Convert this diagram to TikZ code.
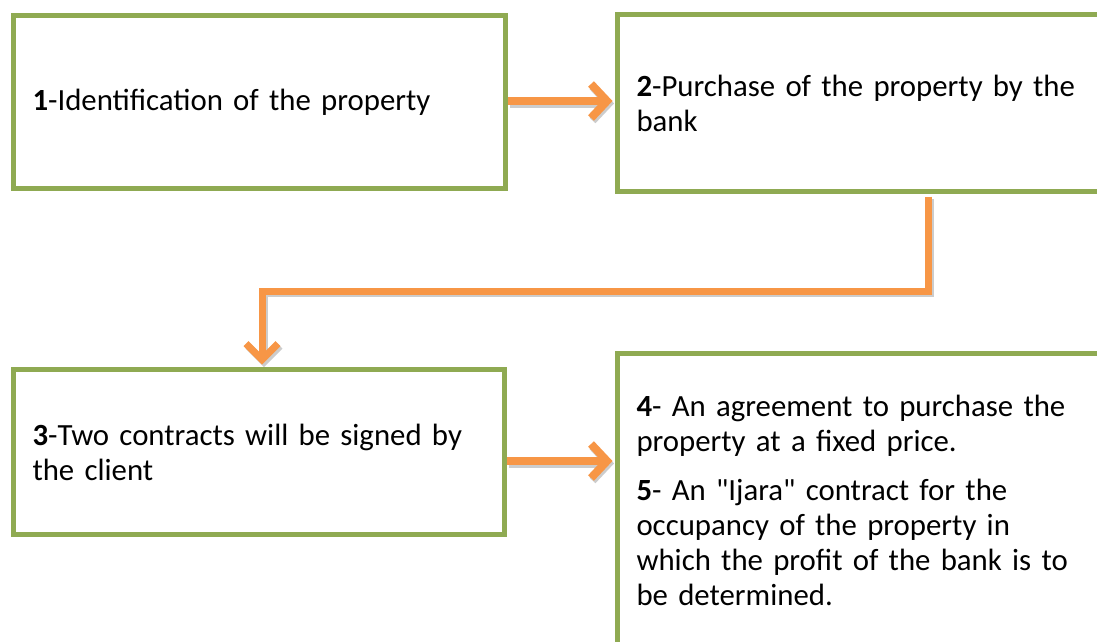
\documentclass[tikz,border=0pt]{standalone}
\usepackage{fontspec}
\setmainfont{Carlito}
\newfontfamily\plainquote{Carlito}
\usetikzlibrary{arrows.meta}
\definecolor{boxgreen}{RGB}{143,170,82}
\definecolor{arrorange}{RGB}{247,150,70}
\begin{document}
\begin{tikzpicture}[x=1pt,y=-1pt,
  stepbox/.style={draw=boxgreen, line width=5pt, rectangle, anchor=north west,
    inner xsep=19pt, inner ysep=0pt, align=left,
    font=\fontsize{30.8}{35}\selectfont},
  flow/.style={draw=arrorange, line width=8pt, line join=miter,
    -{Straight Barb[length=16pt,width=34pt]},
    preaction={draw=black!20, line width=8pt, transform canvas={shift={(1.5pt,-2.5pt)}}, -{Straight Barb[length=16pt,width=34pt]}}},
  elbowflow/.style={draw=arrorange, line width=7pt, line join=miter,
    -{Straight Barb[length=16pt,width=32pt]},
    preaction={draw=black!20, line width=7pt, transform canvas={shift={(2pt,-2.5pt)}}, -{Straight Barb[length=16pt,width=32pt]}}}]
\useasboundingbox (0,0) rectangle (1097,641);
\clip (0,0) rectangle (1097,641);

\node[stepbox, text width=454pt, minimum height=173pt] (b1) at (11,13)
  {\textbf{1}-Identification of the property};
\node[stepbox, text width=457pt, minimum height=177pt] (b2) at (615,12)
  {\textbf{2}-Purchase of the property by the\\bank};
\node[stepbox, text width=453pt, minimum height=165pt] (b3) at (11,367)
  {\textbf{3}-Two contracts will be signed by\\the client};
\node[stepbox, text width=457pt, minimum height=294pt] (b4) at (615,351)
  {\textbf{4}- An agreement to purchase the\\property at a fixed price.\\[14pt]
   \textbf{5}- An {\plainquote"}Ijara{\plainquote"} contract for the\\occupancy of the property in\\which the profit of the bank is to\\be determined.};

\coordinate (r1) at (0,101);
\coordinate (r2) at (0,461);
\coordinate (c1) at (928,291);
\coordinate (c2) at (262,291);

\draw[flow, shorten <=0pt, shorten >=2.5pt] (b1.east |- r1) -- (b2.west |- r1);
\draw[flow, shorten <=0pt, shorten >=2.5pt] (b3.east |- r2) -- (b4.west |- r2);
\draw[elbowflow, shorten <=2.5pt, shorten >=2.5pt] (b2.south -| c1) -- (c1) -- (c2) -- (c2 |- b3.north);
\end{tikzpicture}
\end{document}
